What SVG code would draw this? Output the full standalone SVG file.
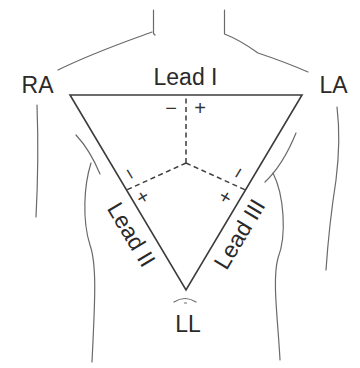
<svg xmlns="http://www.w3.org/2000/svg" width="360" height="368" viewBox="0 0 360 368">
  <style>
    .body { fill: none; stroke: #6a6a6a; stroke-width: 1.2; stroke-linecap: round; stroke-linejoin: round; }
    .tri { fill: none; stroke: #3c3c3c; stroke-width: 1.6; stroke-linejoin: miter; }
    .axis { fill: none; stroke: #3c3c3c; stroke-width: 1.5; stroke-dasharray: 5 3.5; }
    .lbl { font-family: "Liberation Sans", Arial, sans-serif; font-size: 23px; fill: #2a2a2a; text-anchor: middle; }
    .sign { font-family: "Liberation Sans", Arial, sans-serif; font-size: 20px; fill: #333; text-anchor: middle; }
  </style>

  <!-- torso outline -->
  <g id="torso">
    <path class="body" d="M153.5,10 V33.5 l1.5,1.5 M152,32 C125,42 95,52 58,70"/>
    <path class="body" d="M224.5,10 V34 Q240,40 258,53 Q285,62 308,72"/>
    <path class="body" d="M37,105 Q39,160 36,217"/>
    <path class="body" d="M337,107 Q341,140 336,180 Q329,225 326,270"/>
    <path class="body" d="M76,135 Q90,150 100,174"/>
    <path class="body" d="M91,163 C84,185 82,220 90,245 C97,265 95,300 92,362"/>
    <path class="body" d="M296,133 Q283,165 265,182"/>
    <path class="body" d="M273,173 C284,195 287,235 278,258 C272,280 278,320 280,360"/>
    <path class="body" d="M174,302 Q185,295 196,302 M184.5,303 h2"/>
  </g>

  <!-- lead axes meeting at the heart's centre -->
  <g id="connectors">
    <path class="tri" d="M70,95 H302 L186,290 Z"/>
    <path class="axis" d="M186,163 V95"/>
    <path class="axis" d="M186,163 L126.5,190"/>
    <path class="axis" d="M186,163 L245.5,190"/>
  </g>

  <!-- limb electrodes -->
  <g id="RA"><text class="lbl" x="37.5" y="93">RA</text></g>
  <g id="LA"><text class="lbl" x="333.5" y="93">LA</text></g>
  <g id="LL"><text class="lbl" x="188" y="332">LL</text></g>

  <!-- lead labels and polarity -->
  <g id="lead-I">
    <text class="lbl" x="185.5" y="85">Lead I</text>
    <text class="sign" x="171" y="115">−</text>
    <text class="sign" x="200" y="115">+</text>
  </g>
  <g id="lead-II">
    <text class="lbl" transform="translate(131.5,234.5) rotate(59)" x="0" y="8">Lead II</text>
    <text class="sign" transform="translate(130,174) rotate(59)" x="0" y="7">−</text>
    <text class="sign" transform="translate(143,197) rotate(59)" x="0" y="7">+</text>
  </g>
  <g id="lead-III">
    <text class="lbl" transform="translate(239.5,234) rotate(-59)" x="0" y="8">Lead III</text>
    <text class="sign" transform="translate(238,173) rotate(-59)" x="0" y="7">−</text>
    <text class="sign" transform="translate(225,197) rotate(-59)" x="0" y="7">+</text>
  </g>
</svg>
